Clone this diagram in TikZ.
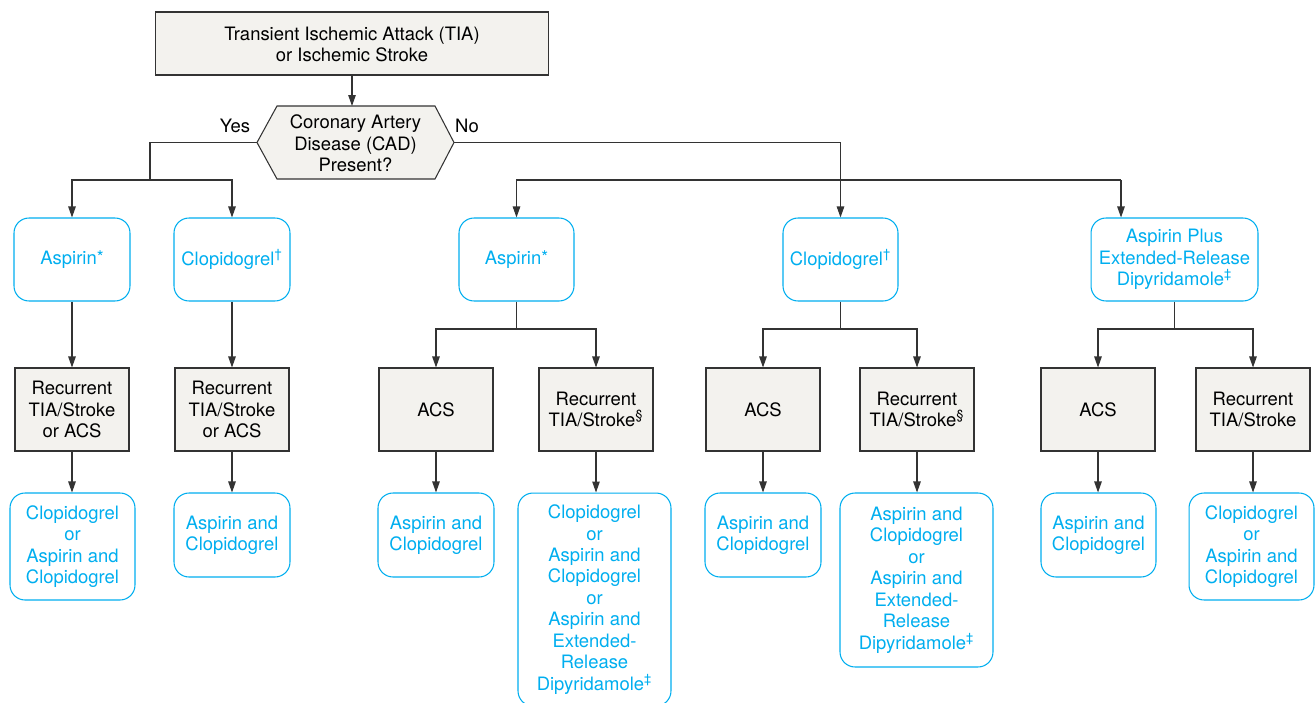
\documentclass[tikz,border=0pt]{standalone}
\usepackage{fontspec}
\setmainfont{TeX Gyre Heros}
\usetikzlibrary{arrows.meta}
\definecolor{cy}{HTML}{00AEEF}
\definecolor{gfill}{HTML}{F3F2EE}
\definecolor{ln}{HTML}{333333}
\newcommand{\astmark}{\raisebox{0.6pt}{\fontsize{10}{10}\selectfont *}}
\begin{document}
\begin{tikzpicture}[x=0.02cm,y=-0.02cm,
  every node/.style={font=\fontsize{10.5}{12.2}\selectfont, align=center, inner sep=0pt},
  graybox/.style={draw=ln, fill=gfill, line width=0.6pt, text=black},
  drug/.style={draw=cy, rounded corners=0.3cm, line width=0.6pt, text=cy},
  conn/.style={draw=ln, line width=0.6pt},
  arr/.style={conn, -{Triangle[length=2.2mm,width=1.5mm]}},
  lbl/.style={text=black}]
\useasboundingbox (0,0) rectangle (1315,703);
% top
\node[graybox, minimum width=7.88cm, minimum height=1.26cm] (top) at (352,43.5) {\rule{0pt}{9pt}Transient Ischemic Attack (TIA)\\or Ischemic Stroke};
% hexagon
\coordinate (hexL) at (257,142.5);
\coordinate (hexR) at (454,142.5);
\coordinate (hexT) at (352,106);
\draw[graybox] (hexL) -- (277,106) -- (435,106) -- (hexR) -- (435,179) -- (277,179) -- cycle;
\node[lbl] (hex) at (355.5,143.5) {Coronary Artery\\Disease (CAD)\\Present?};
\node[lbl] (yes) at (235,126) {Yes};
\node[lbl] (no) at (467,126) {No};
% row 1
\node[drug, minimum width=2.32cm, minimum height=1.66cm] (a1) at (72,259.5) {Aspirin\astmark};
\node[drug, minimum width=2.32cm, minimum height=1.66cm] (c1) at (232,259.5) {Clopidogrel\textsuperscript{\dag}};
\node[drug, minimum width=2.30cm, minimum height=1.66cm] (a2) at (516.5,259.5) {Aspirin\astmark};
\node[drug, minimum width=2.30cm, minimum height=1.66cm] (c2) at (840.5,259.5) {Clopidogrel\textsuperscript{\dag}};
\node[drug, minimum width=3.34cm, minimum height=1.66cm] (p3) at (1174.5,259.5) {Aspirin Plus\\Extended-Release\\Dipyridamole\textsuperscript{\ddag}};
% row 2
\node[graybox, minimum width=2.28cm, minimum height=1.66cm] (r1) at (72,409.5) {Recurrent\\TIA/Stroke\\or ACS};
\node[graybox, minimum width=2.28cm, minimum height=1.66cm] (r2) at (232,409.5) {Recurrent\\TIA/Stroke\\or ACS};
\node[graybox, minimum width=2.28cm, minimum height=1.66cm] (s1) at (436,409.5) {ACS};
\node[graybox, minimum width=2.28cm, minimum height=1.66cm] (s2) at (596,409.5) {Recurrent\\TIA/Stroke\textsuperscript{\S}};
\node[graybox, minimum width=2.28cm, minimum height=1.66cm] (s3) at (763,409.5) {ACS};
\node[graybox, minimum width=2.28cm, minimum height=1.66cm] (s4) at (917,409.5) {Recurrent\\TIA/Stroke\textsuperscript{\S}};
\node[graybox, minimum width=2.28cm, minimum height=1.66cm] (s5) at (1098,409.5) {ACS};
\node[graybox, minimum width=2.28cm, minimum height=1.66cm] (s6) at (1253,409.5) {Recurrent\\TIA/Stroke};
% row 3
\node[drug, minimum width=2.50cm, minimum height=2.14cm] (t1) at (72.5,546.5) {Clopidogrel\\or\\Aspirin and\\Clopidogrel};
\node[drug, minimum width=2.32cm, minimum height=1.68cm] (t2) at (232,535) {Aspirin and\\Clopidogrel};
\node[drug, minimum width=2.32cm, minimum height=1.68cm] (t3) at (436,535) {Aspirin and\\Clopidogrel};
\node[drug, minimum width=3.06cm, minimum height=4.26cm] (t4) at (594.5,599.5) {Clopidogrel\\or\\Aspirin and\\Clopidogrel\\or\\Aspirin and\\Extended-\\Release\\Dipyridamole\textsuperscript{\ddag}};
\node[drug, minimum width=2.32cm, minimum height=1.68cm] (t5) at (763,535) {Aspirin and\\Clopidogrel};
\node[drug, minimum width=3.06cm, minimum height=3.48cm] (t6) at (916.5,580) {Aspirin and\\Clopidogrel\\or\\Aspirin and\\Extended-\\Release\\Dipyridamole\textsuperscript{\ddag}};
\node[drug, minimum width=2.30cm, minimum height=1.68cm] (t7) at (1098.5,535) {Aspirin and\\Clopidogrel};
\node[drug, minimum width=2.50cm, minimum height=2.14cm] (t8) at (1251.5,546.5) {Clopidogrel\\or\\Aspirin and\\Clopidogrel};
% connectors top
\draw[arr] (top.south) -- (hexT);
\coordinate (yj) at (150,180);
\draw[conn] (hexL) -| (yj);
\draw[arr] (yj) -| (a1.north);
\draw[arr] (yj) -| (c1.north);
\coordinate (nj) at (840,180);
\coordinate (p3in) at (1121,180);
\draw[arr] (hexR) -| (c2.north);
\draw[arr] (nj) -| (a2.north);
\draw[conn] (nj) -- (p3in);
\draw[arr] (p3in) -- (p3in |- p3.north);
% row1 -> row2
\draw[arr] (a1.south) -- (r1.north);
\draw[arr] (c1.south) -- (r2.north);
\coordinate (j2) at (516.5,329);
\draw[conn] (a2.south) -- (j2);
\draw[arr] (j2) -| (s1.north);
\draw[arr] (j2) -| (s2.north);
\coordinate (j3) at (840.5,329);
\draw[conn] (c2.south) -- (j3);
\draw[arr] (j3) -| (s3.north);
\draw[arr] (j3) -| (s4.north);
\coordinate (j4) at (1174.5,329);
\draw[conn] (p3.south) -- (j4);
\draw[arr] (j4) -| (s5.north);
\draw[arr] (j4) -| (s6.north);
% row2 -> row3
\foreach \a/\b in {r1/t1,r2/t2,s1/t3,s2/t4,s3/t5,s4/t6,s5/t7,s6/t8}
  \draw[arr] (\a.south) -- (\a.south |- \b.north);
\end{tikzpicture}
\end{document}
